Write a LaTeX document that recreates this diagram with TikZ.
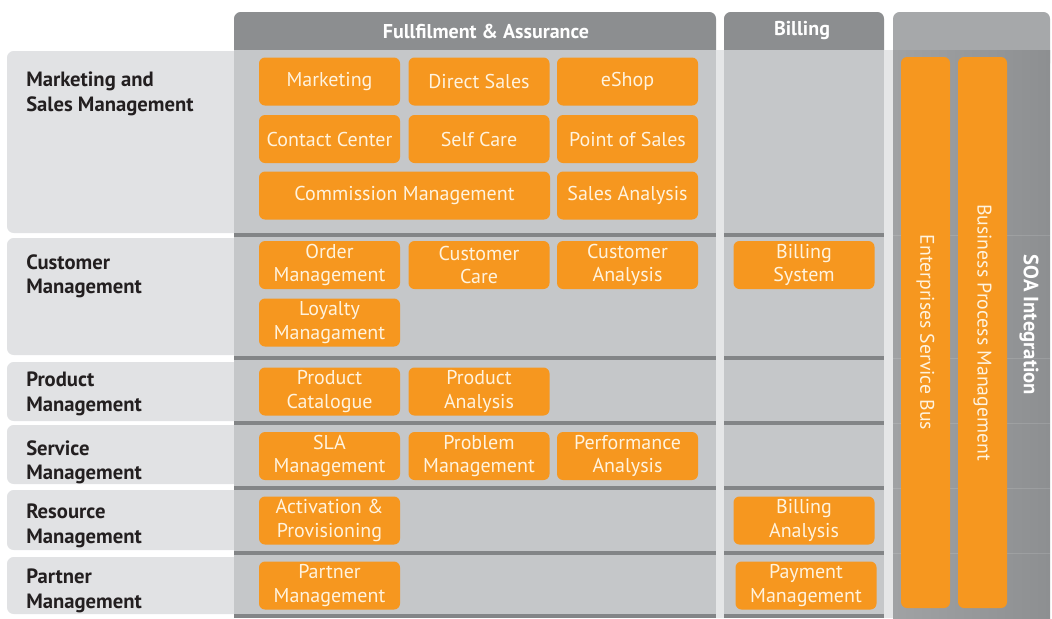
\documentclass[tikz,border=0pt]{standalone}
\usepackage{fontspec}
\setmainfont{PT Sans}

\definecolor{appor}{RGB}{246,151,31}
\definecolor{apptxt}{RGB}{255,243,222}
\definecolor{lblbg}{RGB}{225,226,228}
\definecolor{lbltxt}{RGB}{35,31,32}
\definecolor{colbg}{RGB}{197,199,201}
\definecolor{sepgray}{RGB}{131,133,135}
\definecolor{headgray}{RGB}{140,142,144}
\definecolor{gapgray}{RGB}{229,230,231}
\definecolor{soatop}{RGB}{166,168,170}
\definecolor{soagray}{RGB}{160,162,164}
\definecolor{soadark}{RGB}{141,143,145}

\newcommand{\pxl}[1]{#1*0.75pt}

\tikzset{
  appbox/.style={fill=appor, rounded corners=4.5pt, text=apptxt, align=center,
    inner sep=0pt, minimum height=\pxl{48}, font=\fontsize{15}{17.8}\selectfont},
  busbar/.style={appbox, minimum width=\pxl{551}, minimum height=\pxl{49},
    font=\fontsize{14.8}{17}\selectfont},
  rowlabel/.style={anchor=north west, align=left, inner sep=0pt, text=lbltxt,
    font=\fontsize{15.5}{18.3}\selectfont\bfseries},
  colhead/.style={text=white, inner sep=0pt, font=\fontsize{15}{17}\selectfont\bfseries},
}

\newcommand{\ob}{\node[appbox, minimum width=\pxl{141}]}
\newcommand{\Ob}{\node[appbox, minimum width=\pxl{291}]}

\begin{document}
\begin{tikzpicture}[x=0.75pt, y=-0.75pt]
            \useasboundingbox (0,0) rectangle (1052,618);

            % row label panels
            \fill[lblbg, rounded corners=5pt] (7,51) rectangle (250,233);
            \fill[lblbg, rounded corners=5pt] (7,238) rectangle (250,355);
            \fill[lblbg, rounded corners=5pt] (7,362) rectangle (250,421);
            \fill[lblbg, rounded corners=5pt] (7,425) rectangle (250,484);
            \fill[lblbg, rounded corners=5pt] (7,490) rectangle (250,550);
            \fill[lblbg, rounded corners=5pt] (7,557) rectangle (250,614);

            % columns
            \fill[headgray, rounded corners=5pt] (234,12) rectangle (716,70);
            \fill[headgray, rounded corners=5pt] (724,12) rectangle (884,70);
            \fill[gapgray] (716,50) rectangle (724,618);
            \fill[gapgray] (884,50) rectangle (893,618);
            \fill[colbg] (234,50) rectangle (716,618);
            \fill[colbg] (724,50) rectangle (884,618);
            \foreach \y in {233,356,421,486,551,614} {
                \fill[sepgray] (234,\y) rectangle (716,\y+4);
                \fill[sepgray] (724,\y) rectangle (884,\y+4);
            }

            % SOA panel
            \fill[soatop, rounded corners=5pt] (893,12) rectangle (1050,70);
            \shade[left color=soagray, right color=soadark] (893,50) rectangle (1050,618);
            \foreach \y in {235,358,423,488,553}
                \draw[white, opacity=0.12] (893,\y) -- (1050,\y);

            \node[colhead] (hfa) at (486,31) {Fullfilment \& Assurance};
            \node[colhead] (hbl) at (802,31) {Billing};
            \node[colhead, font=\fontsize{15.5}{17}\selectfont\bfseries, rotate=-90] (soa) at (1029,325) {SOA Integration};

            \node[rowlabel] (lmks) at (26,72) {Marketing and\\Sales Management};
            \node[rowlabel] (lcus) at (26,254) {Customer\\Management};
            \node[rowlabel] (lprd) at (26,372) {Product\\Management};
            \node[rowlabel] (lsrv) at (26,440) {Service\\Management};
            \node[rowlabel] (lres) at (26,504) {Resource\\Management};
            \node[rowlabel] (lpar) at (26,569) {Partner\\Management};

            \ob (mkt) at (329.5,81.5) {Marketing};
            \ob (dsl) at (479,81.5) {Direct Sales};
            \ob (esh) at (627.5,81.5) {eShop};
            \ob (ccn) at (329.5,139) {Contact Center};
            \ob (scr) at (479,139) {Self Care};
            \ob (pos) at (627.5,139) {Point of Sales};
            \Ob (cms) at (404.5,195.5) {Commission Management};
            \ob (san) at (627.5,195.5) {Sales Analysis};

            \ob (ord) at (329.5,265) {Order\\Management};
            \ob (cca) at (479,265) {Customer\\Care};
            \ob (can) at (627.5,265) {Customer\\Analysis};
            \ob (bsy) at (804,265) {Billing\\System};
            \ob (loy) at (329.5,322.5) {Loyalty\\Managament};

            \ob (pct) at (329.5,391.5) {Product\\Catalogue};
            \ob (pan) at (479,391.5) {Product\\Analysis};

            \ob (sla) at (329.5,456) {SLA\\Management};
            \ob (prb) at (479,456) {Problem\\Management};
            \ob (prf) at (627.5,456) {Performance\\Analysis};

            \ob (act) at (329.5,520.5) {Activation \&\\Provisioning};
            \ob (ban) at (804,520.5) {Billing\\Analysis};

            \ob (prt) at (329.5,585.5) {Partner\\Management};
            \ob (pay) at (806,585.5) {Payment\\Management};

            \node[busbar, rotate=-90] (esb) at (925.5,332.5) {Enterprises Service Bus};
            \node[busbar, rotate=-90] (bpm) at (982.5,332.5) {Business Process Management};

\end{tikzpicture}
\end{document}
